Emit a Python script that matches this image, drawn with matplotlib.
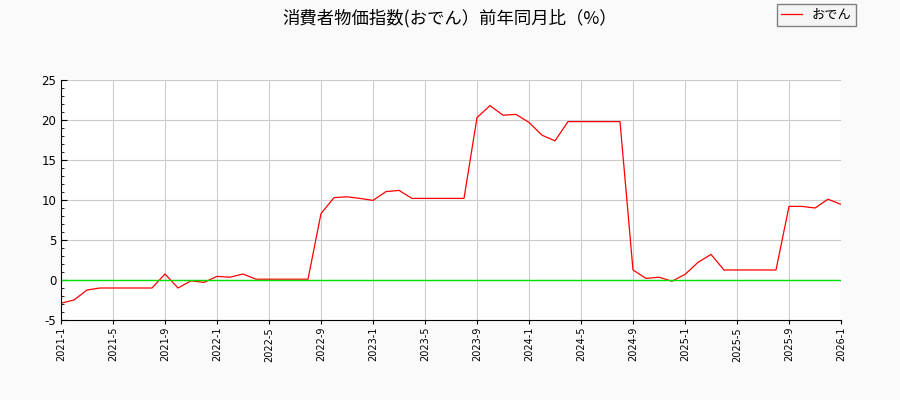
import matplotlib
matplotlib.use("Agg")
import matplotlib.pyplot as plt
from matplotlib.ticker import MultipleLocator
import pandas as pd

plt.rcParams['font.family'] = ['Noto Sans CJK JP', 'DejaVu Sans']
plt.rcParams['axes.unicode_minus'] = False

# 月次データ 2021-1 ～ 2026-1
months = pd.date_range("2021-01-01", "2026-01-01", freq="MS")
values = [
    -2.9, -2.5, -1.25, -1.0, -1.0, -1.0, -1.0, -1.0,
    0.75, -1.0, -0.1, -0.3,
    0.45, 0.35, 0.75, 0.1, 0.1, 0.1, 0.1, 0.1,
    8.3, 10.3, 10.4, 10.2,
    9.95, 11.05, 11.2, 10.2, 10.2, 10.2, 10.2, 10.2,
    20.3, 21.8, 20.6, 20.7,
    19.7, 18.1, 17.4, 19.8, 19.8, 19.8, 19.8, 19.8,
    1.25, 0.2, 0.35, -0.15,
    0.7, 2.2, 3.2, 1.25, 1.25, 1.25, 1.25, 1.25,
    9.2, 9.2, 9.0, 10.1,
    9.45,
]
series_name = "おでん"
title = "消費者物価指数(おでん）前年同月比（%）"

x = list(range(len(months)))
tick_pos = x[::4]
tick_labels = ["{}-{}".format(m.year, m.month) for m in months[::4]]

fig = plt.figure(figsize=(9, 4), dpi=100, facecolor="#fafafa")
ax = fig.add_axes([61/900, 80/400, 780/900, 240/400])
ax.set_facecolor("white")

ax.plot(x, values, color="red", linewidth=0.9, label=series_name)
ax.axhline(0, color="#00dd00", linewidth=1.0)

ax.set_xlim(0, len(months) - 1)
ax.set_ylim(-5, 25)
ax.set_xticks(tick_pos)
ax.set_xticklabels(tick_labels, rotation=90, fontsize=7, family="DejaVu Sans")
ax.yaxis.set_major_locator(MultipleLocator(5))
ax.yaxis.set_minor_locator(MultipleLocator(1))
ax.tick_params(axis="y", which="major", direction="in", length=4, labelsize=8.5)
ax.tick_params(axis="y", which="minor", direction="in", length=2)
ax.tick_params(axis="x", direction="out", length=3, pad=2)
for lab in ax.get_yticklabels():
    lab.set_family("DejaVu Sans")

ax.grid(True, color="#cccccc", linewidth=0.8)
ax.set_axisbelow(True)
ax.spines["top"].set_visible(False)
ax.spines["right"].set_visible(False)

fig.text(0.5, 1 - 18/400, title, ha="center", va="center", fontsize=12.5)

leg = fig.legend(loc="upper right", bbox_to_anchor=(856/900, 1 - 4/400),
                 borderaxespad=0, fontsize=9.5, frameon=True, fancybox=False,
                 handlelength=1.6, borderpad=0.35, handletextpad=0.7)
leg.get_frame().set_edgecolor("#808080")
leg.get_frame().set_facecolor("#f5f5f5")
leg.get_frame().set_alpha(1)

fig.savefig("out.png", dpi=100, facecolor=fig.get_facecolor())
